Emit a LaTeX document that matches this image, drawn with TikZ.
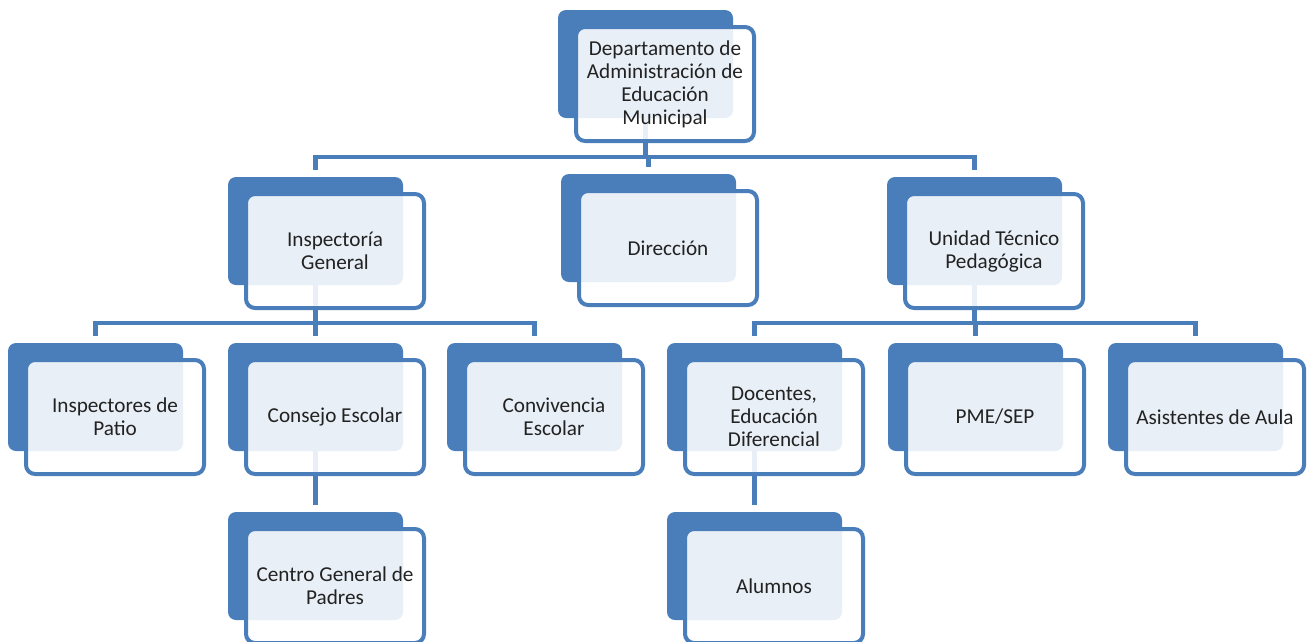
\documentclass[tikz,border=0pt]{standalone}
\usepackage{fontspec}
\setmainfont{Carlito}
\usetikzlibrary{positioning, backgrounds}
\definecolor{orgblue}{RGB}{74,126,187}
\definecolor{orgtext}{RGB}{34,34,34}

\begin{document}
\begin{tikzpicture}[
    % one unit = one pixel of the reference, y grows downwards
    x=1pt, y=-1pt,
    % blue card lying behind each box
    backcard/.style={
        rectangle,
        rounded corners=8pt,
        fill=orgblue,
        anchor=north west,
        minimum width=175pt,
        minimum height=108pt,
        inner sep=0pt,
        outer sep=0pt
    },
    % front box with the text, half see-through
    unit/.style={
        rectangle,
        rounded corners=9pt,
        draw=orgblue,
        line width=4pt,
        fill=white,
        fill opacity=0.88,
        text opacity=1,
        minimum width=178pt,
        minimum height=114pt,
        text=orgtext,
        align=center,
        font=\fontsize{21.2}{23}\selectfont
    },
    link/.style={
        draw=orgblue,
        line width=4.5pt
    }
]
    \useasboundingbox (0,0) rectangle (1312,641);

    % --- 1. Place Nodes ---
    % top
    \node[backcard] (depB) at (558,10) {};
    \node[unit, below right=15pt and 16pt of depB.north west] (dep) {Departamento de\\Administración de\\Educación\\Municipal};

    % second row
    \node[backcard] (insB) at (228,177) {};
    \node[unit, below right=15pt and 16pt of insB.north west] (ins) {Inspectoría\\General};
    \node[backcard] (dirB) at (561,174) {};
    \node[unit, below right=15pt and 16pt of dirB.north west] (dir) {Dirección};
    \node[backcard] (utpB) at (887,177) {};
    \node[unit, below right=15pt and 16pt of utpB.north west] (utp) {Unidad Técnico\\Pedagógica};

    % third row
    \node[backcard] (patB) at (8,343) {};
    \node[unit, below right=15pt and 16pt of patB.north west] (pat) {Inspectores de\\Patio};
    \node[backcard] (conB) at (228,343) {};
    \node[unit, below right=15pt and 16pt of conB.north west] (con) {Consejo Escolar};
    \node[backcard] (cnvB) at (447,343) {};
    \node[unit, below right=15pt and 16pt of cnvB.north west] (cnv) {Convivencia\\Escolar};
    \node[backcard] (docB) at (667,343) {};
    \node[unit, below right=15pt and 16pt of docB.north west] (doc) {Docentes,\\Educación\\Diferencial};
    \node[backcard] (pmeB) at (888,343) {};
    \node[unit, below right=15pt and 16pt of pmeB.north west] (pme) {PME/SEP};
    \node[backcard] (asiB) at (1108,343) {};
    \node[unit, below right=15pt and 16pt of asiB.north west] (asi) {Asistentes de Aula};

    % bottom row
    \node[backcard] (cgpB) at (228,512) {};
    \node[unit, below right=15pt and 16pt of cgpB.north west] (cgp) {Centro General de\\Padres};
    \node[backcard] (aluB) at (667,512) {};
    \node[unit, below right=15pt and 16pt of aluB.north west] (alu) {Alumnos};

    % levels of the horizontal bars
    \coordinate (barA) at (0,157);
    \coordinate (barB) at (0,323);

    % --- 2. Draw Edges (behind the boxes) ---
    \begin{pgfonlayer}{background}
        % top -> second row
        \draw[link] (depB.south) -- (depB.south |- barA);
        \draw[link, shorten <=7pt, shorten >=7pt] (insB.north) -- (insB.north |- barA) -- (utpB.north |- barA) -- (utpB.north);
        \draw[link, shorten >=7pt] (dirB.north |- barA) -- (dirB.north);

        % Inspectoría General -> its units
        \draw[link] (insB.south) -- (insB.south |- barB);
        \draw[link, shorten <=7pt, shorten >=7pt] (patB.north) -- (patB.north |- barB) -- (cnvB.north |- barB) -- (cnvB.north);
        \draw[link, shorten >=7pt] (conB.north |- barB) -- (conB.north);
        \draw[link, shorten >=7pt] (conB.south) -- (cgpB.north);

        % Unidad Técnico Pedagógica -> its units
        \draw[link] (utpB.south) -- (utpB.south |- barB);
        \draw[link, shorten <=7pt, shorten >=7pt] (docB.north) -- (docB.north |- barB) -- (asiB.north |- barB) -- (asiB.north);
        \draw[link, shorten >=7pt] (pmeB.north |- barB) -- (pmeB.north);
        \draw[link, shorten >=7pt] (docB.south) -- (aluB.north);
    \end{pgfonlayer}

\end{tikzpicture}
\end{document}
